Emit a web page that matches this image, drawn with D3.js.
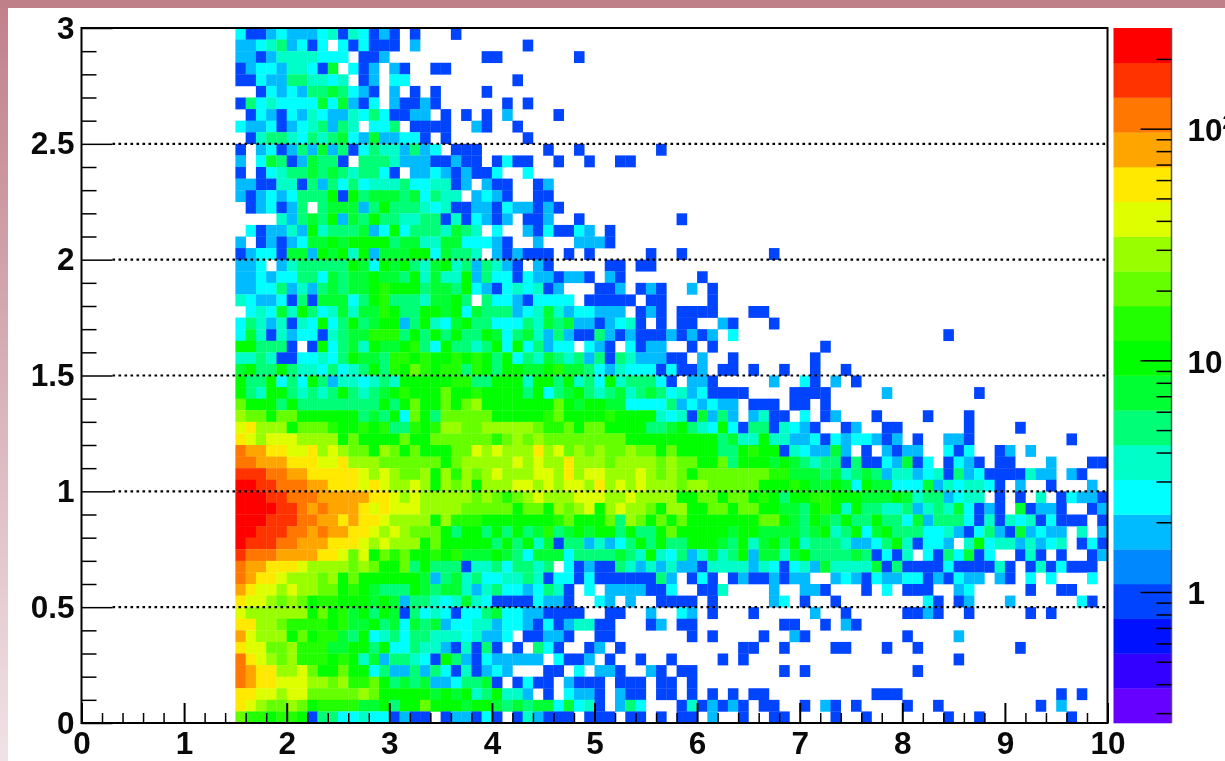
<!DOCTYPE html>
<html><head><meta charset="utf-8">
<script src="https://cdn.jsdelivr.net/npm/d3@7"></script>
<style>
html,body{margin:0;padding:0;background:#fff;overflow:hidden}
svg{display:block;filter:blur(0.45px)}
text{font-family:"Liberation Sans",Arial,sans-serif;font-weight:700;font-size:31.5px;fill:#0a0a0a}
</style></head><body><svg id="c" width="1225" height="761"></svg>
<script>
// z colour bands, lowest to highest (20 contour levels of the palette)
const zColors=["#6600ff","#3300ff","#0011ff","#0044ff","#0088ff","#00bbff","#00ffff","#00ffc8","#00ff77","#00ff33",
               "#00ff00","#22ff00","#66ff00","#99ff00","#ddff00","#ffe900","#ffa500","#ff7700","#ff3300","#ff0000"];
const xBinWidth=0.1, yBinWidth=0.05, firstX=1.5;
const xMajor=[0,1,2,3,4,5,6,7,8,9,10];
const yMajor=[0,0.5,1,1.5,2,2.5,3];
const gridY=[0.5,1,1.5,2,2.5];
const zMajor=[1,10,100];
const zMinor=[0.3,0.4,0.5,0.6,0.7,0.8,0.9,2,3,4,5,6,7,8,9,20,30,40,50,60,70,80,90,200];
const zDomain=[0.272,272];
// Each row (top to bottom) = band index per x bin, base 20; "." = empty bin; spaces only group every 10 bins
const rowLevels=[
"6335655567 376353.3.. .3",
"556785636. 636333.5.. ........3",
"5535777766 6.335..... ....33.... ...3",
"3566577639 .635.53..3 3",
"3365588776 7.35.66... .......3",
"..36565889 8653.5.3.3 ....3",
"3867666696 9536.53353 ......3.3",
".365365765 576863355. 3.3.3.5... .3",
"6556356785 87.668.333 3..53..3",
".378876878 965955663. 3.......3",
"3.56358595 8368775856 .333...... 3..3...... .3",
"5.69835988 3.88875553 3533.3633. .3..3..33",
"3.36788989 878863.556 535336..6",
"5533773858 6867778667 735.533..3 5",
"535656888a 3a89998968 77.5653..3 3",
".356358.89 9958a88876 7335536553 53",
"....75898a 598a887788 3736535.33 5..3...... ...3",
".635575a78 88956a6888 7987.6..53 63365.3",
"5.3535699a 9aaaa89977 9966653..5 ...5553",
"35663995a9 a7a5999aa6 9887.53533 3.3.3..... 3..3...... ..3",
"556.578888 8a96a9a879 a7858753.5 3.....33.3 3",
"5565668869 899a998a79 77a5866365 53553.53.. .....3",
"5566857589 899abaaa89 98a6536767 35...335.3 53..5.3",
"7655638399 968ab88879 9a8.866536 666.33333. 33....3",
".67697a867 9799ba88aa 9a69888567 97566555.3 53.3333... 33",
"68757376a6 8a89aa58a7 69a8866687 9895535673 .3.33..53. ..3",
"6973756637 899bbb8a8a 8a88a96897 5853385353 3353535.6. .......... .........3",
"aa8883.3a6 897a99ab86 a8878a6a68 566.653.63 55..3.3... .......3",
"7787336676 8a998bbaba ababa8a687 9878583875 5533.5..3. ......3",
"9a88a87768 678a8bacba bb8ba8aa99 ab99865766 636335.33. 3..3..3..3",
"a88a686a85 776787aaaa abb88aaa7a a8a786a788 863.553... ..5..63.5. 3",
"a87aa87878 a8789abaaa caabaaaa8a 689a878978 9867563333 ....3333.. ...5...... ..3",
"caaa8a8888 8888a8acaa cacdaaaaaa aca9aa9966 668565655. 333.33.3",
"dccaccaaaa aa898a6ca8 cccccaaaaa bcaaaabaaa a76739585. 5733.6.35. ..3....3.. .3",
"efdddacccb aabab88bab ddccdddddc bbcaccaaaa 889a876a63 8837653..3 5..33..... .3....3",
"fedeeedddd acaaaacaac cccccbcdcd ccccccccaa aaaaaaa897 7a77556365 66535.3..5 53........ .3",
"hggffeefde dccadcacaa accededddf decdcdccdc cacaaaa88a baa3765595 .3.5355..6 36..35.5",
"hhgggfffee fdddcccccc acdddddede ddfdddcddd dcdccaac8a aa9a987883 83365936.3 653.33...5 ...33",
"iiihhggfff ffededccda dbdcdeddde edfdeeddde dcdcaccccc ccbb999897 8985775673 8563333755 .53..",
"jjiihhhggf ffefeddeda dcdadddeed edeedfdede dddcddcccc caaaba99a9 6a99666957 67763.5..3 ...5.",
"jjjiihhhgg gggffededd dddcdcbcde dddeeedded dddaaccacc aba8aabbaa a999a97885 677.3.3.7. 36553",
"jjjjiihghg ggfefeeedd ddcccccacc adcdeadedd caddaaccac caa998aba7 a887785787 96353.9355 3..35",
"jjjiiihhgg fgffedddda dbbbaaaaaa abcaaac8dc acacaaaaaa acca98a98a 88a8869588 8637376736 333.3",
"jjiiihhghg gffededccc a8aa8a8a89 b89a9aa8a8 8acaaaaa9a a999989a78 a69a888667 5368539565 5.7.5",
"jiiihhgggf ffededddac aaaaa8a8a7 938857568a 8a88aaa98a 79a8a78887 5568a73665 .7a6775756 7.363",
"ihhhggggff eceacbcaab ab999a9869 9968888987 a76857978a 59979a8888 983637.638 6936..373. 3..35",
"hggfffeddd dcdcaac8a8 8837786887 8.63533875 7575537777 5763675977 7793833336 333373.373 6333.",
"hgffedddcd acaaaaaa95 8978667787 3663633333 385.363.35 335355..56 5365566353 655.53.6.6 ...6.",
"gfeededdcc aba9888a98 9975786656 873.6.5555 336..337.. ..5..553.. .3.6.333.. 56.....3.. 33",
"feedcdcabb aaa9a95887 6797633336 553..65.5. .3333.3... ..56.3..3. .......63. 35...5.... ..63",
"eddddddaca b9a8a93867 6366896655 3333..33.. 5..65.3... 3.....5..3 .....3353. .3.....3.3",
"ffddcbbbba b99a896989 5667756653 6357733... 35.33..... ...33..3.5 3",
"gedddacabb 98a6786887 7767556.33 553..33... ....3.3... .3..53.... .....3.... 5",
"feeccdbbb9 9aa8a66877 537383.3.8 63..35.3.. .........3 3..3....33 ...3..3... ......3",
"hfedcdbbba ba79588763 a853655555 .6335.3..3 ..3....3.3 .......... .......... 3",
"hgffddecaa caa6855858 6373565... 33.6.553.. 53.33..... ...3.3.... ......3",
"hgffeeeddc dbbca89895 568893.363 3.5333.333 .33.3",
"ffeedeeccc ccdcaaaaa9 a9a78a775. 3.6553.533 .33.3.3.3. 33........ ..333..... .......... 3.3",
"fedccdcabb bb99a8aaca aa9aa98989 969673.586 ...3735353 .33..3.53. 3....3..3. ........3. 5",
"cbbabba388 667663533. 355363.375 333.333.33 .3.33.5..3 ..33....3. .3.......3 ..3....... .3"
].map(s=>s.replace(/ /g,""));

const W=1225,H=761;
const L=81.5,R=1107.5,T=28,B=723;
const svg=d3.select("#c");
const x=d3.scaleLinear().domain([0,10]).range([L,R]);
const y=d3.scaleLinear().domain([0,3]).range([B,T]);
const zPos=d3.scaleLog().domain(zDomain).range([B,T]);
const colour=d3.scaleOrdinal().domain(d3.range(zColors.length)).range(zColors);

// frame band
const defs=svg.append("defs");
const g1=defs.append("linearGradient").attr("id","edge").attr("x1",0).attr("x2",0).attr("y1",0).attr("y2",1);
g1.append("stop").attr("offset",0).attr("stop-color","#c0808a");
g1.append("stop").attr("offset",1).attr("stop-color","#f0e2e6");
svg.append("rect").attr("width",W).attr("height",H).attr("fill","#fff");
svg.append("rect").attr("x",0).attr("y",0).attr("width",8).attr("height",H).attr("fill","url(#edge)");
svg.append("rect").attr("x",0).attr("y",0).attr("width",W).attr("height",8).attr("fill","#c0808a");

// cells
const cells=[];
rowLevels.forEach((s,r)=>{[...s].forEach((ch,c)=>{
  if(ch===".")return;
  cells.push({x0:firstX+c*xBinWidth,y1:3-r*yBinWidth,level:parseInt(ch,20)});
});});
svg.append("g").selectAll("rect").data(cells).join("rect")
  .attr("x",d=>x(d.x0)).attr("y",d=>y(d.y1))
  .attr("width",x(xBinWidth)-x(0)+0.3).attr("height",y(0)-y(yBinWidth)+0.3)
  .attr("fill",d=>colour(d.level));

// grid
svg.append("g").selectAll("line").data(gridY).join("line")
  .attr("x1",L+31).attr("x2",R).attr("y1",d=>y(d)).attr("y2",d=>y(d))
  .attr("stroke","#000").attr("stroke-width",2.2).attr("stroke-dasharray","2.6 3.4");

function style(g,w){g.select(".domain").remove();g.selectAll(".tick line").attr("stroke","#000").attr("stroke-width",w);}

// x axis
svg.append("g").attr("transform",`translate(0,${B})`)
  .call(d3.axisBottom(x).tickValues(d3.range(0,10.01,0.2).filter(v=>Math.abs(v-Math.round(v))>1e-6)).tickSize(-10).tickFormat(""))
  .call(style,1.5);
svg.append("g").attr("transform",`translate(0,${B})`)
  .call(d3.axisBottom(x).tickValues(xMajor).tickSize(-20).tickPadding(9).tickFormat(d3.format("d")))
  .call(style,2);

// y axis
svg.append("g").attr("transform",`translate(${L},0)`)
  .call(d3.axisLeft(y).tickValues(d3.range(0,3.01,0.1).filter(v=>Math.abs(v*2-Math.round(v*2))>1e-6)).tickSize(-15).tickFormat(""))
  .call(style,1.5);
svg.append("g").attr("transform",`translate(${L},0)`)
  .call(d3.axisLeft(y).tickValues(yMajor).tickSize(-31).tickPadding(7).tickFormat(d3.format("~g")))
  .call(style,1.5);

// frame
svg.append("rect").attr("x",L).attr("y",T).attr("width",R-L).attr("height",B-T)
  .attr("fill","none").attr("stroke","#000").attr("stroke-width",2);

// palette
const barL=1113.5,barR=1171.5;
svg.append("g").selectAll("rect").data(zColors).join("rect")
  .attr("x",barL).attr("width",barR-barL)
  .attr("y",(d,i)=>T+(B-T)*(zColors.length-1-i)/zColors.length)
  .attr("height",(B-T)/zColors.length+0.3)
  .attr("fill",d=>d);
svg.append("line").attr("x1",barR).attr("x2",barR).attr("y1",T).attr("y2",B).attr("stroke","#555").attr("stroke-width",1.5);
svg.append("g").attr("transform",`translate(${barR},0)`)
  .call(d3.axisRight(zPos).tickValues(zMinor).tickSize(-15).tickFormat(""))
  .call(style,1.5);
const zAxis=svg.append("g").attr("transform",`translate(${barR},0)`)
  .call(d3.axisRight(zPos).tickValues(zMajor).tickSize(-31).tickPadding(16).tickFormat(v=>v===100?"10":String(v)))
  .call(style,1.5);
zAxis.selectAll("text").attr("dy","0.38em");
zAxis.selectAll(".tick").filter(d=>d===100).select("text")
  .append("tspan").attr("dy",-12).style("font-size","20px").text("2");
</script></body></html>
